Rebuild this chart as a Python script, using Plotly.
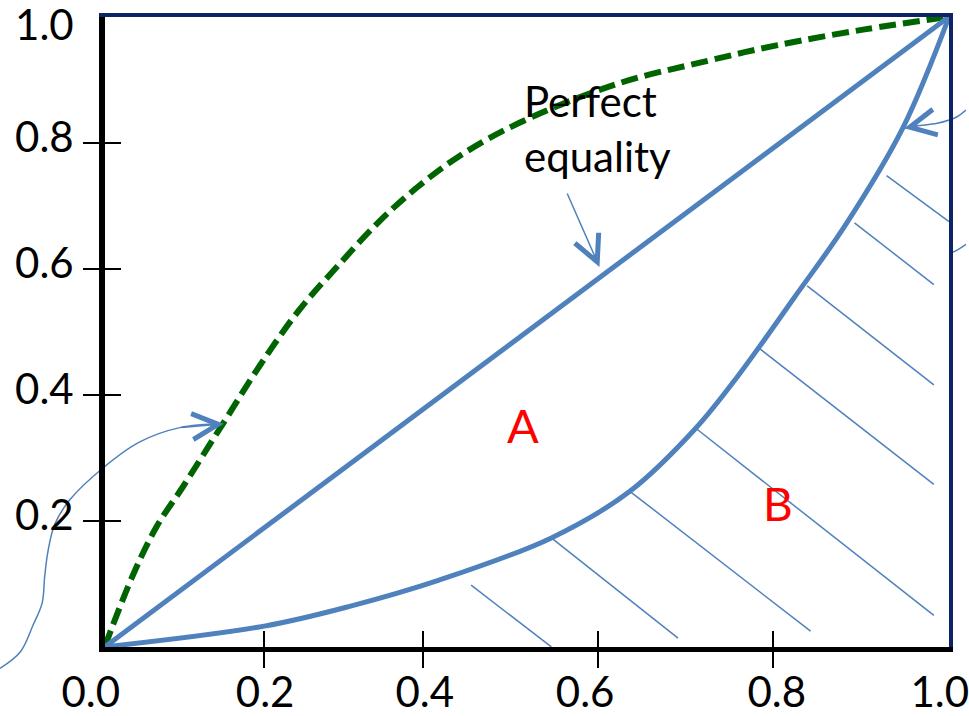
import plotly.graph_objects as go

# ---------------- data (unit-square coordinates) ----------------
equality_x = [0.0, 1.0]
equality_y = [0.0, 1.0]

lorenz_x = [0.0, 0.189, 0.289, 0.396, 0.529, 0.622, 0.700, 0.750, 0.817, 0.877, 0.945, 1.0]
lorenz_y = [0.0, 0.033, 0.064, 0.106, 0.173, 0.247, 0.347, 0.430, 0.555, 0.669, 0.823, 1.0]

upper_x = [0.0, 0.033, 0.0614, 0.0921, 0.139, 0.183, 0.230, 0.277, 0.325, 0.368, 0.419, 0.490, 0.608,
           0.714, 0.797, 0.900, 1.0]
upper_y = [0.0, 0.1125, 0.1906, 0.253, 0.352, 0.445, 0.534, 0.606, 0.675, 0.727, 0.778, 0.831, 0.894,
           0.930, 0.955, 0.980, 1.0]

hatch_x0 = [0.434, 0.529, 0.622, 0.700, 0.776, 0.832, 0.888, 0.926]
hatch_y0 = [0.098, 0.173, 0.247, 0.347, 0.473, 0.573, 0.673, 0.748]
hatch_x1 = [0.529, 0.679, 0.836, 0.982, 0.982, 0.982, 0.982, 1.000]
hatch_y1 = [0.000, 0.014, 0.025, 0.050, 0.258, 0.416, 0.575, 0.675]

callout_left_x = [-0.124, -0.100, -0.085, -0.074, -0.071, -0.067, -0.059, -0.041, -0.002, 0.041, 0.089, 0.141]
callout_left_y = [-0.034, -0.008, 0.034, 0.070, 0.1125, 0.153, 0.195, 0.234, 0.284, 0.325, 0.348, 0.354]
callout_right1_x = [1.020, 1.009, 0.986, 0.962, 0.947]
callout_right1_y = [0.852, 0.841, 0.831, 0.827, 0.823]
callout_right2_x = [1.020, 1.011, 1.002]
callout_right2_y = [0.639, 0.631, 0.625]

equality_arrow = dict(x0=0.547, y0=0.722, x1=0.586, y1=0.603)

x_tick_vals = [0.189, 0.377, 0.584, 0.792]
y_tick_vals = [0.2, 0.4, 0.6, 0.8]
x_label_pos = [-0.0165, 0.190, 0.379, 0.569, 0.796, 0.989]
x_label_text = ["0.0", "0.2", "0.4", "0.6", "0.8", "1.0"]
y_label_pos = [0.209, 0.409, 0.609, 0.809, 0.986]
y_label_text = ["0.2", "0.4", "0.6", "0.8", "1.0"]

text_labels = [
    dict(text="Perfect<br>equality", x=0.494, y=0.822, color="black", size=42, xanchor="left", align="left"),
    dict(text="A", x=0.496, y=0.352, color="#FF0000", size=47, xanchor="center", align="center"),
    dict(text="B", x=0.797, y=0.228, color="#FF0000", size=46, xanchor="center", align="center"),
]

# ---------------- layout geometry ----------------
W, H = 969, 716
BOX_L, BOX_R, BOX_T, BOX_B = 105, 952, 15, 655
BLUE = "#4F81BD"
GREEN = "#006400"
NAVY = "#0E2565"
FONT = "Lato"

dx0, dx1 = BOX_L / W, BOX_R / W
dy0, dy1 = (H - BOX_B) / H, (H - BOX_T) / H
x_full = [-dx0 / (dx1 - dx0), (1 - dx0) / (dx1 - dx0)]
y_full = [-dy0 / (dy1 - dy0), (1 - dy0) / (dy1 - dy0)]

fig = go.Figure()

def seg_lists(x0, y0, x1, y1):
    xs, ys = [], []
    for a, b, c, d in zip(x0, y0, x1, y1):
        xs += [a, c, None]
        ys += [b, d, None]
    return xs, ys

hx, hy = seg_lists(hatch_x0, hatch_y0, hatch_x1, hatch_y1)
fig.add_trace(go.Scatter(x=hx, y=hy, mode="lines", line=dict(color=BLUE, width=1.5), hoverinfo="skip"))

for cx, cy in [(callout_left_x, callout_left_y), (callout_right1_x, callout_right1_y),
               (callout_right2_x, callout_right2_y)]:
    fig.add_trace(go.Scatter(x=cx, y=cy, mode="lines", line=dict(color=BLUE, width=1.5, shape="spline"),
                             hoverinfo="skip"))

fig.add_trace(go.Scatter(x=upper_x, y=upper_y, mode="lines",
                         line=dict(color=GREEN, width=6, dash="17px,7px", shape="spline"), hoverinfo="skip"))
fig.add_trace(go.Scatter(x=equality_x, y=equality_y, mode="lines", line=dict(color=BLUE, width=5),
                         hoverinfo="skip"))
fig.add_trace(go.Scatter(x=lorenz_x, y=lorenz_y, mode="lines", line=dict(color=BLUE, width=5, shape="spline"),
                         hoverinfo="skip"))

# empty traces so that every decoration axis pair is a real subplot
for xa, ya in [("x2", "y2"), ("x3", "y2"), ("x4", "y2"), ("x5", "y2"), ("x2", "y3"), ("x2", "y4"), ("x2", "y5")]:
    fig.add_trace(go.Scatter(x=[], y=[], xaxis=xa, yaxis=ya, hoverinfo="skip"))

annotations = []
for t in text_labels:
    annotations.append(dict(text=t["text"], x=t["x"], y=t["y"], xref="x", yref="y", showarrow=False,
                            xanchor=t["xanchor"], yanchor="middle", align=t["align"],
                            font=dict(family=FONT, size=t["size"], color=t["color"])))

def head(xs, ys):
    return dict(x=xs[-1], y=ys[-1], ax=xs[-2], ay=ys[-2])

heads = [
    dict(x=equality_arrow["x1"], y=equality_arrow["y1"], ax=equality_arrow["x0"], ay=equality_arrow["y0"]),
    head(callout_left_x, callout_left_y),
    head(callout_right1_x, callout_right1_y),
    head(callout_right2_x, callout_right2_y),
]
for h in heads:
    annotations.append(dict(text="", xref="x", yref="y", axref="x", ayref="y", showarrow=True,
                            arrowhead=5, arrowsize=3.4, arrowwidth=1.5, arrowcolor=BLUE, standoff=0,
                            startstandoff=0, **h))

blank = dict(showgrid=False, zeroline=False, showticklabels=False, ticks="", showline=False, fixedrange=True)

fig.update_layout(
    width=W, height=H,
    margin=dict(l=0, r=0, t=0, b=0),
    paper_bgcolor="white",
    plot_bgcolor="rgba(0,0,0,0)",
    showlegend=False,
    annotations=annotations,
    xaxis=dict(domain=[0, 1], range=x_full, visible=False, fixedrange=True),
    yaxis=dict(domain=[0, 1], range=y_full, visible=False, fixedrange=True),
    # bottom / left black axes with outward ticks
    xaxis2=dict(blank, domain=[dx0, dx1], range=[0, 1], anchor="y2", showline=True, linecolor="black",
                linewidth=5, ticks="outside", ticklen=16, tickwidth=2, tickcolor="black",
                tickmode="array", tickvals=x_tick_vals),
    yaxis2=dict(blank, domain=[dy0, dy1], range=[0, 1], anchor="x2", showline=True, linecolor="black",
                linewidth=6, ticks="outside", ticklen=16, tickwidth=2, tickcolor="black",
                tickmode="array", tickvals=y_tick_vals),
    # navy top / right border
    xaxis3=dict(blank, range=[0, 1], overlaying="x2", anchor="y2", side="top", showline=True,
                linecolor=NAVY, linewidth=4),
    yaxis3=dict(blank, range=[0, 1], overlaying="y2", anchor="x2", side="right", showline=True,
                linecolor=NAVY, linewidth=4),
    # inward half of the crossing ticks
    xaxis4=dict(blank, range=[0, 1], overlaying="x2", anchor="y2", ticks="inside", ticklen=16, tickwidth=2,
                tickcolor="black", tickmode="array", tickvals=x_tick_vals),
    yaxis4=dict(blank, range=[0, 1], overlaying="y2", anchor="x2", ticks="inside", ticklen=16, tickwidth=2,
                tickcolor="black", tickmode="array", tickvals=y_tick_vals),
    # tick labels
    xaxis5=dict(blank, domain=[0, 1], range=x_full, anchor="y2", showticklabels=True, tickmode="array",
                tickvals=x_label_pos, ticktext=x_label_text, ticklabelstandoff=17, ticklabeloverflow="allow",
                tickfont=dict(family=FONT, size=42, color="black")),
    yaxis5=dict(blank, domain=[0, 1], range=y_full, anchor="x2", showticklabels=True, tickmode="array",
                tickvals=y_label_pos, ticktext=y_label_text, ticklabelstandoff=30, ticklabeloverflow="allow",
                tickfont=dict(family=FONT, size=42, color="black")),
)

fig.write_html("out.html", config={"displayModeBar": False, "staticPlot": True},
               post_script="document.body.style.margin='0';document.body.style.overflow='hidden';")
